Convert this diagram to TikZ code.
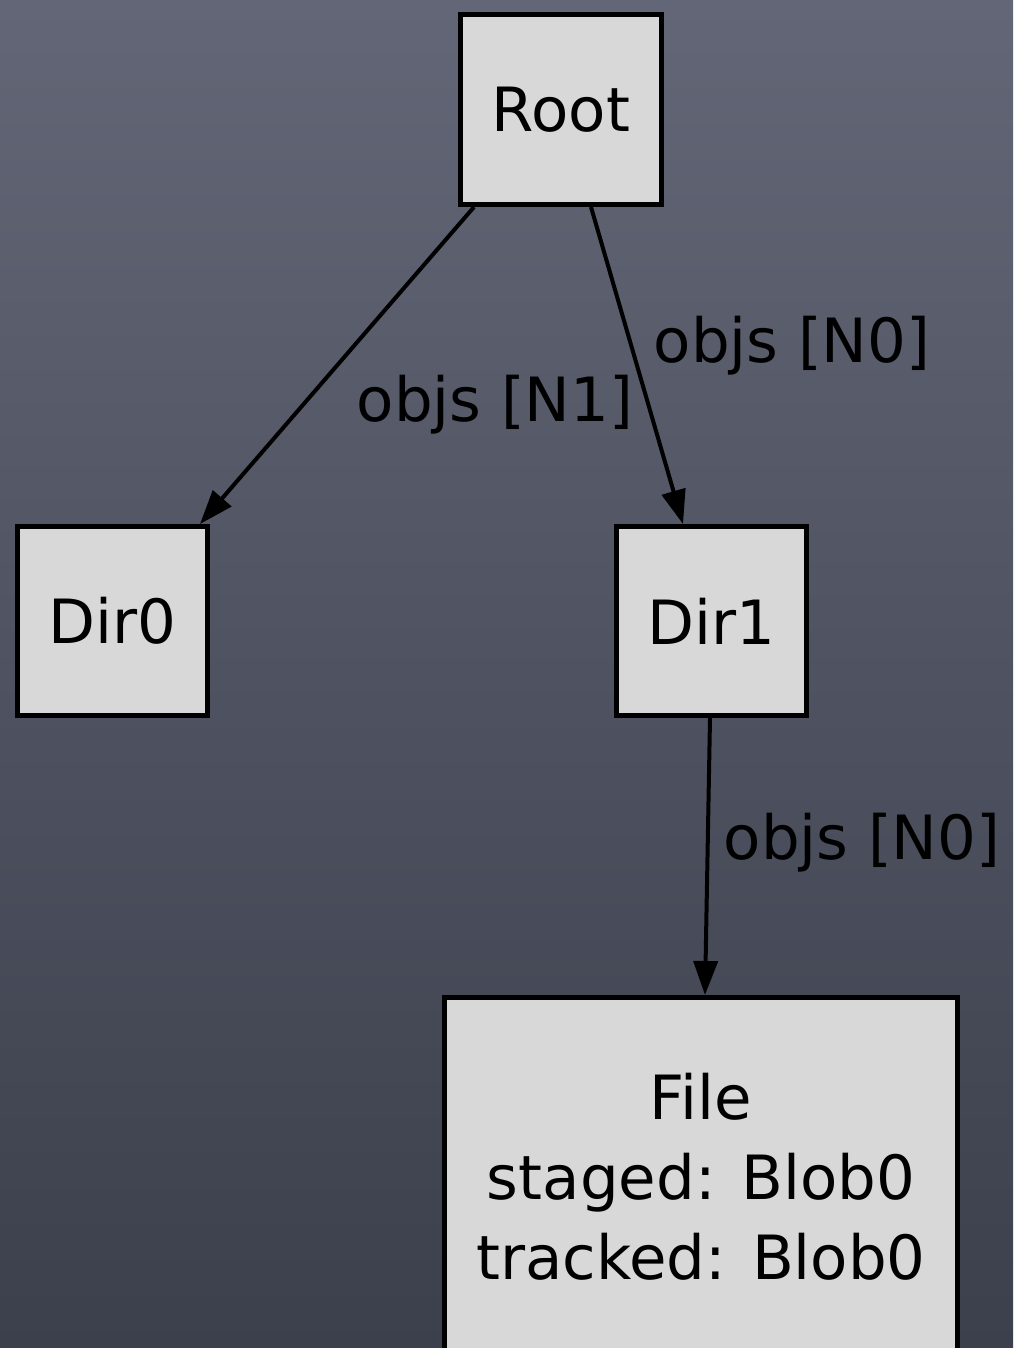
\documentclass[tikz,border=0pt]{standalone}
\usepackage{fontspec}
\setmainfont{DejaVu Sans}
\usetikzlibrary{arrows.meta}
\definecolor{slatetop}{HTML}{626676}
\definecolor{slatebot}{HTML}{3C404C}
\definecolor{boxfill}{HTML}{D8D8D8}
\begin{document}
\begin{tikzpicture}[x=1pt,y=1pt,
  objbox/.style={draw=black, fill=boxfill, line width=5pt, rectangle,
    inner sep=0pt, align=center, font=\fontsize{61}{80}\selectfont},
  dirbox/.style={objbox, minimum width=190pt, minimum height=189pt},
  link/.style={line width=4pt, -{Triangle[length=34pt,width=24pt]}},
  edgelabel/.style={inner sep=0pt, text=black, font=\fontsize{61}{74}\selectfont}]
  % slate backdrop
  \useasboundingbox (0,0) rectangle (1013,-1348);
  \clip (0,0) rectangle (1013,-1348);
  \shade[top color=slatetop, bottom color=slatebot] (0,0) rectangle (1013,-1348);

  % tree of objects
  \node[objbox, minimum width=201pt, minimum height=190pt] (root) at (561,-109.5) {Root};
  \node[dirbox] (dir0) at (112.5,-621) {Dir0};
  \node[dirbox] (dir1) at (711.5,-621) {Dir1};
  \node[objbox, minimum width=513pt, minimum height=359pt] (file) at (701,-1177)
    {File\\staged: Blob0\\tracked: Blob0};

  % links between objects
  \draw[link] ([xshift=-87pt]root.south) -- ([xshift=87.5pt]dir0.north);
  \draw[link] ([xshift=30pt]root.south) -- ([xshift=-28.5pt]dir1.north);
  \draw[link] ([xshift=-1.5pt]dir1.south) -- ([xshift=4pt]file.north);

  % link labels
  \node[edgelabel] (l1) at (495,-405) {objs [N1]};
  \node[edgelabel] (l0) at (792,-346) {objs [N0]};
  \node[edgelabel] (l2) at (862,-843) {objs [N0]};
\end{tikzpicture}
\end{document}
